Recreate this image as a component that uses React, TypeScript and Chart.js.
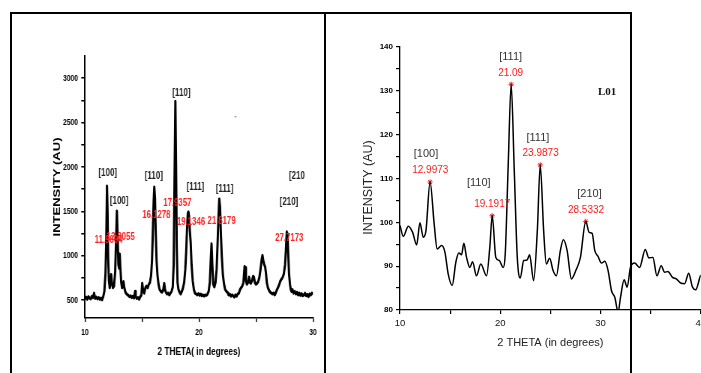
import { useEffect, useRef } from 'react';
import { Chart, registerables } from 'chart.js';

Chart.register(...registerables);

// ---------- Left panel: XRD scan (2θ vs intensity) ----------
const leftTheta = [
  10.0, 10.1, 10.2, 10.3, 10.4, 10.5, 10.6, 10.7, 10.8, 10.85,
  10.9, 11.0, 11.1, 11.2, 11.3, 11.4, 11.5, 11.6, 11.7, 11.8,
  11.87, 11.93, 11.98, 12.03, 12.1, 12.17, 12.25, 12.3, 12.36, 12.45,
  12.55, 12.65, 12.72, 12.8, 12.87, 12.93, 13.0, 13.05, 13.1, 13.18,
  13.25, 13.32, 13.38, 13.45, 13.55, 13.65, 13.8, 13.9, 14.0, 14.1,
  14.2, 14.3, 14.4, 14.45, 14.55, 14.65, 14.75, 14.85, 14.95, 15.02,
  15.1, 15.2, 15.3, 15.4, 15.5, 15.6, 15.7, 15.8, 15.88, 15.95,
  16.02, 16.08, 16.14, 16.2, 16.28, 16.36, 16.45, 16.55, 16.65, 16.75,
  16.85, 16.95, 17.02, 17.1, 17.2, 17.3, 17.4, 17.5, 17.6, 17.7,
  17.78, 17.85, 17.93, 17.99, 18.05, 18.12, 18.2, 18.3, 18.4, 18.5,
  18.6, 18.7, 18.8, 18.88, 18.95, 19.02, 19.08, 19.14, 19.2, 19.27,
  19.35, 19.45, 19.55, 19.65, 19.75, 19.85, 19.95, 20.05, 20.15, 20.25,
  20.35, 20.45, 20.55, 20.65, 20.75, 20.85, 20.95, 21.03, 21.1, 21.17,
  21.25, 21.35, 21.45, 21.55, 21.62, 21.7, 21.78, 21.85, 21.92, 22.0,
  22.1, 22.2, 22.3, 22.4, 22.5, 22.6, 22.7, 22.8, 22.9, 23.0,
  23.1, 23.2, 23.3, 23.4, 23.5, 23.6, 23.7, 23.8, 23.9, 24.0,
  24.06, 24.12, 24.2, 24.3, 24.4, 24.48, 24.55, 24.65, 24.75, 24.82,
  24.9, 25.0, 25.1, 25.2, 25.3, 25.4, 25.5, 25.57, 25.64, 25.72,
  25.8, 25.88, 25.95, 26.05, 26.15, 26.25, 26.35, 26.45, 26.55, 26.65,
  26.75, 26.85, 26.95, 27.05, 27.15, 27.25, 27.35, 27.45, 27.55, 27.62,
  27.7, 27.76, 27.82, 27.9, 27.98, 28.05, 28.12, 28.2, 28.3, 28.4,
  28.5, 28.6, 28.7, 28.8, 28.9, 29.0, 29.1, 29.2, 29.3, 29.4,
  29.5, 29.6, 29.7, 29.8, 29.9, 30.0,
];
const leftIntensity = [
  520, 535, 510, 540, 525, 515, 545, 530, 580, 540,
  520, 535, 515, 530, 510, 525, 505, 540, 600, 800,
  1200, 1785, 1500, 1000, 720, 640, 700, 790, 700, 640,
  660, 820, 1150, 1505, 1200, 900, 860, 1020, 880, 700,
  640, 690, 710, 640, 590, 570, 555, 540, 550, 530,
  545, 525, 600, 540, 520, 530, 510, 540, 560, 690,
  610, 580, 640, 660, 640, 680, 700, 780, 950, 1250,
  1600, 1775, 1650, 1300, 950, 780, 680, 620, 600, 590,
  610, 690, 620, 590, 570, 580, 560, 580, 600, 650,
  900, 1800, 2740, 2000, 1100, 700, 620, 590, 570, 600,
  640, 700, 850, 1050, 1300, 1480, 1495, 1430, 1280, 1150,
  900, 720, 620, 580, 570, 560, 575, 555, 570, 550,
  560, 545, 560, 555, 570, 600, 700, 950, 1135, 900,
  680, 650, 700, 850, 1100, 1400, 1640, 1550, 1250, 1000,
  780, 680, 620, 600, 590, 560, 570, 545, 560, 550,
  535, 560, 545, 570, 580, 620, 640, 660, 700, 880,
  870, 720, 680, 700, 760, 700, 690, 720, 770, 760,
  700, 680, 690, 710, 760, 850, 960, 1005, 950, 900,
  880, 800, 700, 640, 610, 590, 580, 570, 580, 560,
  590, 620, 650, 680, 720, 740, 760, 800, 900, 1050,
  1270, 1250, 1050, 800, 680, 620, 600, 620, 580, 600,
  570, 590, 560, 580, 555, 575, 550, 560, 580, 550,
  565, 540, 570, 560, 580, 570,
];
const leftXTicks = [10, 15, 20, 25, 30];
const leftYTicks = [500, 750, 1000, 1250, 1500, 1750, 2000, 2250, 2500, 2750, 3000];

const leftHklText = ['[100]', '[100]', '[110]', '[110]', '[111]', '[111]', '[210', '[210]', '-'];
const leftHklTheta = [12.0, 13.0, 16.04, 18.46, 19.69, 22.25, 28.59, 27.89, 23.2];
const leftHklLevel = [1937, 1618, 1903, 2838, 1772, 1753, 1900, 1610, 2568];

const leftPeakText = ['11.9604', '12.8055', '16.1278', '17.9357', '19.1346', '21.8179', '27.7173'];
const leftPeakTheta = [12.07, 13.13, 16.27, 18.1, 19.3, 21.98, 27.93];
const leftPeakLevel = [1173, 1213, 1461, 1592, 1374, 1385, 1198];

// ---------- Right panel: L01 scan ----------
const rightTheta = [
  10.0, 10.33, 10.83, 11.26, 11.66, 11.99, 12.32, 12.59, 13.0, 13.41,
  13.71, 14.15, 14.48, 14.81, 15.21, 15.57, 15.87, 16.14, 16.37, 16.64,
  16.97, 17.24, 17.63, 18.06, 18.63, 18.96, 19.2, 19.56, 19.9, 20.3,
  20.5, 20.8, 21.09, 21.4, 21.7, 22.0, 22.34, 22.67, 22.93, 23.33,
  23.7, 23.99, 24.33, 24.6, 24.93, 25.27, 25.6, 26.0, 26.3, 26.67,
  27.1, 27.54, 28.0, 28.53, 28.87, 29.17, 29.43, 29.76, 30.1, 30.43,
  30.76, 31.1, 31.43, 31.76, 32.0, 32.36, 32.66, 32.99, 33.4, 33.9,
  34.47, 34.83, 35.23, 35.63, 36.06, 36.4, 36.73, 37.16, 37.56, 38.06,
  38.4, 38.8, 39.17, 39.5, 39.9, 40.0,
];
const rightIntensity = [
  99.3, 96.8, 99.1, 97.7, 94.85, 99.9, 96.6, 98.1, 109.2, 99.6,
  93.9, 94.7, 93.2, 88.2, 85.6, 90.9, 93.0, 92.6, 95.2, 92.0,
  89.7, 91.0, 87.8, 90.5, 87.8, 94.3, 101.5, 92.0, 91.3, 89.7,
  92.8, 113.4, 131.5, 111.8, 92.0, 87.3, 91.3, 91.4, 92.6, 86.7,
  98.1, 113.1, 98.1, 90.5, 91.8, 89.0, 87.8, 93.6, 96.0, 93.6,
  87.1, 89.0, 92.0, 100.2, 97.7, 97.5, 93.6, 92.2, 90.7, 91.1,
  89.0, 84.4, 82.9, 79.5, 82.9, 86.9, 85.2, 89.7, 90.7, 89.7,
  93.8, 91.9, 92.0, 87.8, 90.1, 88.6, 88.8, 87.5, 87.1, 86.1,
  86.0, 88.4, 85.3, 84.6, 87.3, 88.0,
];
const rightPeakTheta = [12.9973, 19.1917, 21.09, 23.9873, 28.5332];
const rightPeakIntensity = [109.2, 101.5, 131.5, 113.1, 100.2];
const rightXTicks = [10, 15, 20, 25, 30, 35, 40];
const rightYTicks = [80, 85, 90, 95, 100, 105, 110, 115, 120, 125, 130, 135, 140];

const rightHklText = ['[111]', '[100]', '[110]', '[111]', '[210]'];
const rightHklTheta = [21.04, 12.59, 17.86, 23.76, 28.9];
const rightHklLevel = [137.7, 115.7, 108.9, 119.3, 106.4];
const rightPeakText = ['21.09', '12.9973', '19.1917', '23.9873', '28.5332'];
const rightPeakTextTheta = [21.04, 13.02, 19.2, 24.03, 28.56];
const rightPeakTextLevel = [134.1, 111.9, 104.2, 115.7, 102.8];
const sampleName = 'L01';
const sampleTheta = 30.67;
const sampleLevel = 129.8;

const SANS = '"Liberation Sans", Arial, Helvetica, sans-serif';
const SERIF = '"Liberation Serif", "Times New Roman", serif';

type Note = { text: string; x: number; y: number; color: string; font: string };

function notesPlugin(id: string, notes: Note[], extra?: (chart: any) => void) {
  return {
    id,
    afterDatasetsDraw(chart: any) {
      const { ctx, scales } = chart;
      ctx.save();
      ctx.textAlign = 'center';
      ctx.textBaseline = 'middle';
      for (const n of notes) {
        ctx.font = n.font;
        ctx.fillStyle = n.color;
        ctx.fillText(n.text, scales.x.getPixelForValue(n.x), scales.y.getPixelForValue(n.y));
      }
      ctx.restore();
      if (extra) extra(chart);
    },
  };
}

export default function App() {
  const leftRef = useRef<HTMLCanvasElement | null>(null);
  const rightRef = useRef<HTMLCanvasElement | null>(null);

  useEffect(() => {
    if (!leftRef.current || !rightRef.current) return;

    const leftNotes: Note[] = [
      ...leftHklText.map((t, i) => ({
        text: t,
        x: leftHklTheta[i],
        y: leftHklLevel[i],
        color: t === '-' ? '#999' : '#222',
        font: `bold 10.6px ${SANS}`,
      })),
      ...leftPeakText.map((t, i) => ({
        text: t,
        x: leftPeakTheta[i],
        y: leftPeakLevel[i],
        color: '#ff1f1f',
        font: `bold 10.4px ${SANS}`,
      })),
    ];

    const left = new Chart(leftRef.current, {
      type: 'line',
      data: {
        datasets: [
          {
            data: leftTheta.map((t, i) => ({ x: t, y: leftIntensity[i] })),
            borderColor: '#000',
            borderWidth: 3,
            pointRadius: 0,
            tension: 0,
            borderJoinStyle: 'round',
          },
        ],
      },
      options: {
        animation: false,
        responsive: false,
        devicePixelRatio: 1,
        layout: { padding: { left: 64.2, right: 22.7, top: 56, bottom: 10.4 } },
        plugins: { legend: { display: false }, tooltip: { enabled: false } },
        scales: {
          x: {
            type: 'linear',
            min: 10,
            max: 30,
            afterBuildTicks: (s: any) => {
              s.ticks = leftXTicks.map((v) => ({ value: v }));
            },
            afterFit: (s: any) => {
              s.height = 44.6;
            },
            grid: { drawOnChartArea: false, drawTicks: true, tickLength: 4, color: '#000', lineWidth: 1.5 },
            border: { display: true, color: '#000', width: 1.5 },
            ticks: {
              autoSkip: false,
              maxRotation: 0,
              padding: 5.5,
              color: '#000',
              font: { family: SANS, size: 9, weight: 'bold' },
              callback: (v: any) => (Number(v) % 10 === 0 ? String(v) : ''),
            },
            title: {
              display: true,
              text: '2 THETA( in degrees)',
              color: '#000',
              font: { family: SANS, size: 11, weight: 'bold' },
              padding: { top: 4, bottom: 4 },
            },
          },
          y: {
            type: 'linear',
            min: 300,
            max: 3250,
            afterBuildTicks: (s: any) => {
              s.ticks = leftYTicks.map((v) => ({ value: v }));
            },
            afterFit: (s: any) => {
              s.width = 49.1;
            },
            grid: { drawOnChartArea: false, drawTicks: true, tickLength: 5, color: '#000', lineWidth: 1.5 },
            border: { display: true, color: '#000', width: 2 },
            ticks: {
              autoSkip: false,
              padding: 4.3,
              color: '#000',
              font: { family: SANS, size: 9, weight: 'bold' },
              callback: (v: any) => (Number(v) % 500 === 0 ? String(v) : ''),
            },
            title: {
              display: true,
              text: 'INTENSITY (AU)',
              color: '#000',
              font: { family: SANS, size: 13, weight: 'bold' },
              padding: { top: 4, bottom: 4 },
            },
          },
        },
      },
      plugins: [notesPlugin('leftNotes', leftNotes)],
    } as any);

    const rightNotes: Note[] = [
      ...rightHklText.map((t, i) => ({
        text: t,
        x: rightHklTheta[i],
        y: rightHklLevel[i],
        color: '#333',
        font: `11px ${SANS}`,
      })),
      ...rightPeakText.map((t, i) => ({
        text: t,
        x: rightPeakTextTheta[i],
        y: rightPeakTextLevel[i],
        color: '#ff1a1a',
        font: `10px ${SANS}`,
      })),
      { text: sampleName, x: sampleTheta, y: sampleLevel, color: '#111', font: `bold 11px ${SERIF}` },
    ];

    const drawRightYTitle = (chart: any) => {
      const { ctx, chartArea } = chart;
      ctx.save();
      ctx.translate(chartArea.left - 31, (chartArea.top + chartArea.bottom) / 2 + 9);
      ctx.rotate(-Math.PI / 2);
      ctx.textAlign = 'center';
      ctx.textBaseline = 'middle';
      ctx.font = `12.5px ${SANS}`;
      ctx.fillStyle = '#222';
      ctx.fillText('INTENSITY (AU)', 0, 0);
      ctx.restore();
    };

    const right = new Chart(rightRef.current, {
      type: 'line',
      data: {
        datasets: [
          {
            data: rightTheta.map((t, i) => ({ x: t, y: rightIntensity[i] })),
            borderColor: '#000',
            borderWidth: 1.5,
            pointRadius: 0,
            cubicInterpolationMode: 'monotone',
          },
          {
            data: rightPeakTheta.map((t, i) => ({ x: t, y: rightPeakIntensity[i] })),
            showLine: false,
            pointStyle: 'star',
            pointRadius: 2.6,
            borderColor: '#ff1a1a',
            backgroundColor: '#ff1a1a',
            pointBorderWidth: 1,
          },
        ],
      },
      options: {
        animation: false,
        responsive: false,
        devicePixelRatio: 1,
        layout: { padding: { left: 20, right: 9, top: 47, bottom: 19.4 } },
        plugins: { legend: { display: false }, tooltip: { enabled: false } },
        scales: {
          x: {
            type: 'linear',
            min: 10,
            max: 40,
            afterBuildTicks: (s: any) => {
              s.ticks = rightXTicks.map((v) => ({ value: v }));
            },
            afterFit: (s: any) => {
              s.height = 43.6;
            },
            grid: { drawOnChartArea: false, drawTicks: true, tickLength: 4, color: '#000', lineWidth: 1.2 },
            border: { display: true, color: '#000', width: 1.3 },
            ticks: {
              autoSkip: false,
              maxRotation: 0,
              padding: 4,
              color: '#111',
              font: { family: SANS, size: 9.5 },
              callback: (v: any) => (Number(v) % 10 === 0 ? String(v) : ''),
            },
            title: {
              display: true,
              text: '2 THETA (in degrees)',
              color: '#222',
              font: { family: SANS, size: 11 },
              padding: { top: 4, bottom: 4 },
            },
          },
          y: {
            type: 'linear',
            min: 80,
            max: 140,
            afterBuildTicks: (s: any) => {
              s.ticks = rightYTicks.map((v) => ({ value: v }));
            },
            afterFit: (s: any) => {
              s.width = 50;
            },
            grid: { drawOnChartArea: false, drawTicks: true, tickLength: 4, color: '#000', lineWidth: 1.2 },
            border: { display: true, color: '#000', width: 1.3 },
            ticks: {
              autoSkip: false,
              padding: 3,
              color: '#000',
              font: { family: SANS, size: 8, weight: 'bold' },
              callback: (v: any) => (Number(v) % 10 === 0 ? String(v) : ''),
            },
          },
        },
      },
      plugins: [notesPlugin('rightNotes', rightNotes, drawRightYTitle)],
    } as any);

    return () => {
      left.destroy();
      right.destroy();
    };
  }, []);

  const line = (style: React.CSSProperties): React.CSSProperties => ({
    position: 'absolute',
    background: '#000',
    zIndex: 2,
    ...style,
  });

  return (
    <div
      style={{
        position: 'fixed',
        left: 0,
        top: 0,
        width: 701,
        height: 373,
        overflow: 'hidden',
        background: '#fff',
      }}
    >
      <div
        style={{
          position: 'absolute',
          left: 0,
          top: 0,
          width: 440,
          height: 373,
          transform: 'scaleX(0.75)',
          transformOrigin: '0 0',
        }}
      >
        <canvas ref={leftRef} width={440} height={373} style={{ display: 'block' }} />
      </div>
      <div style={{ position: 'absolute', left: 330, top: 0, width: 380, height: 373 }}>
        <canvas ref={rightRef} width={380} height={373} style={{ display: 'block' }} />
      </div>
      <div style={line({ left: 10, top: 12, width: 622, height: 2 })} />
      <div style={line({ left: 10, top: 12, width: 2, height: 361 })} />
      <div style={line({ left: 324, top: 12, width: 2, height: 361 })} />
      <div style={line({ left: 630, top: 12, width: 2, height: 361 })} />
    </div>
  );
}
